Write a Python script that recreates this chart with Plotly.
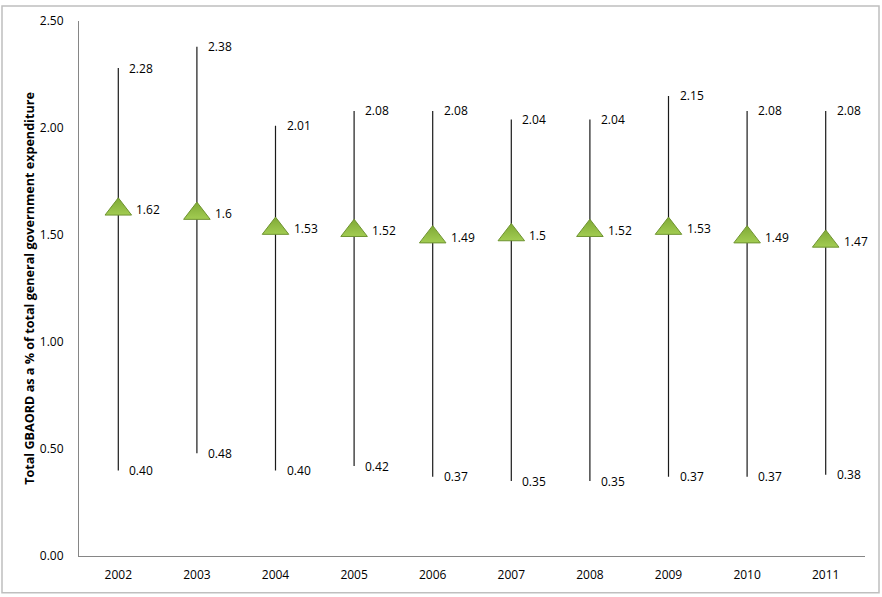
import plotly.graph_objects as go

years = [2002, 2003, 2004, 2005, 2006, 2007, 2008, 2009, 2010, 2011]
high = [2.28, 2.38, 2.01, 2.08, 2.08, 2.04, 2.04, 2.15, 2.08, 2.08]
low = [0.40, 0.48, 0.40, 0.42, 0.37, 0.35, 0.35, 0.37, 0.37, 0.38]
mean = [1.62, 1.6, 1.53, 1.52, 1.49, 1.5, 1.52, 1.53, 1.49, 1.47]
mean_labels = ["1.62", "1.6", "1.53", "1.52", "1.49", "1.5", "1.52", "1.53", "1.49", "1.47"]

FONT = "Open Sans"

fig = go.Figure()

# range lines (high-low) via error bars around mean
fig.add_trace(go.Scatter(
    x=years, y=mean, mode="markers",
    marker=dict(size=0.1, color="rgba(0,0,0,0)"),
    error_y=dict(type="data", symmetric=False,
                 array=[h - m for h, m in zip(high, mean)],
                 arrayminus=[m - l for m, l in zip(mean, low)],
                 width=0, thickness=1.2, color="#1a1a1a"),
    hoverinfo="skip", showlegend=False,
))

# mean markers
fig.add_trace(go.Scatter(
    x=years, y=mean, mode="markers",
    marker=dict(symbol="triangle-up", size=23, color="#7fa935",
                line=dict(color="#6e9330", width=1),
                gradient=dict(type="vertical", color="#a2cc52")),
    showlegend=False,
))

annotations = []
for x, h, l, m, ml in zip(years, high, low, mean, mean_labels):
    annotations.append(dict(x=x, y=h, text=f"{h:.2f}", showarrow=False,
                            xanchor="left", yanchor="middle", xshift=9,
                            font=dict(family=FONT, size=12, color="#000")))
    annotations.append(dict(x=x, y=l, text=f"{l:.2f}", showarrow=False,
                            xanchor="left", yanchor="middle", xshift=9,
                            font=dict(family=FONT, size=12, color="#000")))
    annotations.append(dict(x=x, y=m, text=ml, showarrow=False,
                            xanchor="left", yanchor="middle", xshift=16,
                            font=dict(family=FONT, size=12, color="#000")))

fig.update_layout(
    width=882, height=597,
    margin=dict(l=79, r=17, t=17, b=41),
    paper_bgcolor="white", plot_bgcolor="white",
    font=dict(family=FONT, size=12, color="#000"),
    annotations=annotations,
    xaxis=dict(range=[years[0] - 0.5, years[-1] + 0.5], tickvals=years,
               ticktext=[str(y) for y in years],
               showgrid=False, showline=True,
               linecolor="#868686", linewidth=1, ticks="",
               tickfont=dict(family=FONT, size=12), ticklabelstandoff=8,
               zeroline=False),
    yaxis=dict(range=[0, 2.5], dtick=0.5, tickformat=".2f", showgrid=False,
               showline=True, linecolor="#868686", linewidth=1, ticks="",
               ticklabelstandoff=12, zeroline=False,
               tickfont=dict(family=FONT, size=12),
               title=dict(text="<b>Total GBAORD as a % of total general government expenditure</b>",
                          font=dict(family=FONT, size=12.6), standoff=2)),
    shapes=[dict(type="rect", xref="paper", yref="paper",
                 x0=(2 - 79) / 786, x1=(879 - 79) / 786,
                 y0=(556 - 593) / 539, y1=(556 - 2) / 539,
                 line=dict(color="#bfbfbf", width=1.5), layer="below")],
)

fig.write_html("out.html",
               config={"displayModeBar": False},
               post_script="document.body.style.margin='0';document.body.style.overflow='hidden';")
